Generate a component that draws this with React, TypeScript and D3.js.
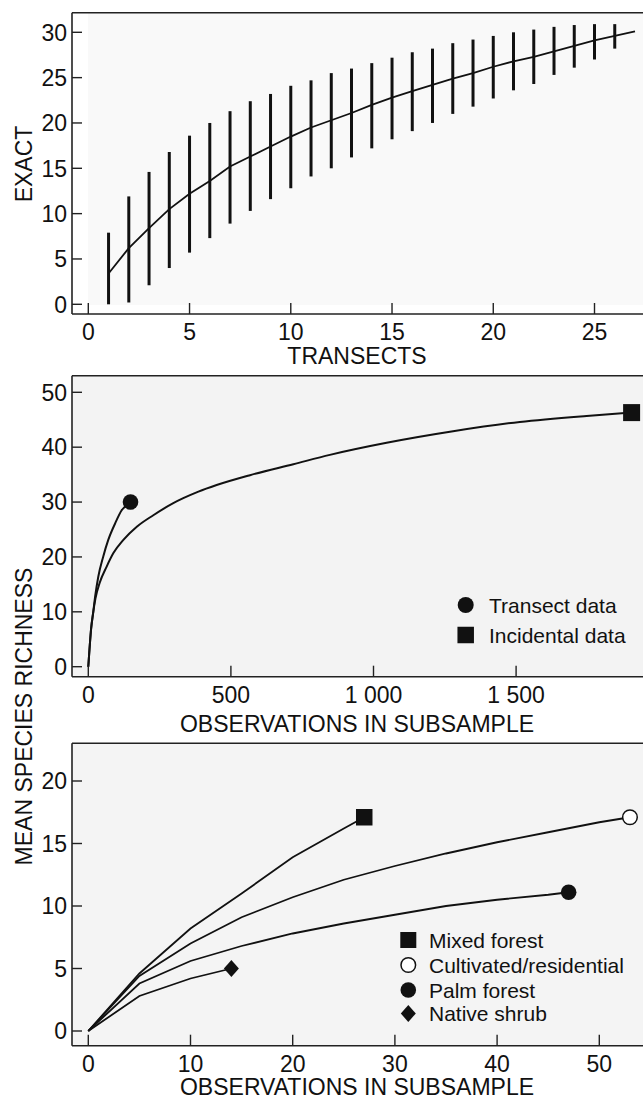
import React from "react";
import * as d3 from "d3";

// ---------- DATA ----------
// Top panel: exact rarefaction vs transects
const transects = [1,2,3,4,5,6,7,8,9,10,11,12,13,14,15,16,17,18,19,20,21,22,23,24,25,26,27];
const exactMean = [3.4,6.2,8.4,10.5,12.2,13.6,15.2,16.3,17.4,18.5,19.5,20.3,21.1,22.0,22.8,23.5,24.2,24.9,25.5,26.2,26.8,27.3,27.9,28.5,29.1,29.6,30.1];
const exactLow = [0,0.2,2.1,4.0,5.7,7.3,8.9,10.3,11.6,12.8,14.1,15.0,16.2,17.2,18.2,19.1,20.0,21.0,21.8,22.7,23.6,24.3,25.3,26.1,27.0,28.2];
const exactHigh = [7.9,11.9,14.6,16.8,18.6,20.0,21.3,22.4,23.2,24.1,24.7,25.5,26.0,26.6,27.2,27.8,28.2,28.8,29.2,29.6,30.0,30.3,30.6,30.8,30.9,30.9];
const topXTicks = [0,5,10,15,20,25];
const topYTicks = [0,5,10,15,20,25,30];

// Middle panel: transect vs incidental
const transectObs = [0,10,17.5,24,35,52,70,94,117,148];
const transectRich = [0,7.0,10.0,12.8,16.4,20.0,23.1,26.1,28.5,30.0];
const incidentalObs = [0,10,17.5,25,40,64,88,123,170,228,298,333,386,450,567,719,847,1046,1279,1513,1747,1905];
const incidentalRich = [0,7.0,10.0,12.4,15.3,18.2,20.7,23.1,25.5,27.6,29.8,30.7,31.9,33.1,34.9,36.9,38.6,40.8,42.9,44.6,45.7,46.3];
const midXTicks = [0,500,1000,1500];
const midXLabels = ["0","500","1 000","1 500"];
const midYTicks = [0,10,20,30,40,50];
const midLegend = ["Transect data","Incidental data"];

// Bottom panel: habitats
const mixedObs = [0,5,10,15,20,25,27];
const mixedRich = [0,4.6,8.2,11.0,13.9,16.2,17.1];
const cultObs = [0,5,10,15,20,25,30,35,40,45,50,53];
const cultRich = [0,4.4,7.0,9.1,10.7,12.1,13.2,14.2,15.1,15.9,16.7,17.1];
const palmObs = [0,5,10,15,20,25,30,35,40,45,47];
const palmRich = [0,3.8,5.6,6.8,7.8,8.6,9.3,10.0,10.5,10.9,11.1];
const shrubObs = [0,5,10,14];
const shrubRich = [0,2.8,4.2,5.0];
const botXTicks = [0,10,20,30,40,50];
const botYTicks = [0,5,10,15,20];
const botLegend = ["Mixed forest","Cultivated/residential","Palm forest","Native shrub"];

const FONT = "'Liberation Sans', Arial, Helvetica, sans-serif";
const FS = 23;
const LFS = 21;
const INK = "#111";

function Square({ cx, cy, s }: { cx: number; cy: number; s: number }) {
  return <rect x={cx - s / 2} y={cy - s / 2} width={s} height={s} fill={INK} />;
}
function Diamond({ cx, cy, w, h }: { cx: number; cy: number; w: number; h: number }) {
  return <path d={`M${cx},${cy - h / 2}L${cx + w / 2},${cy}L${cx},${cy + h / 2}L${cx - w / 2},${cy}Z`} fill={INK} />;
}

function Frame({ top, bottom, left, right }: { top: number; bottom: number; left: number; right: number }) {
  return (
    <g stroke="#222" strokeWidth={1.6} fill="none">
      <line x1={left} x2={right} y1={top} y2={top} />
      <line x1={left} x2={right} y1={bottom} y2={bottom} />
      <line x1={left} x2={left} y1={top} y2={bottom} />
    </g>
  );
}

function YAxis({ scale, ticks, left }: { scale: any; ticks: number[]; left: number }) {
  return (
    <g>
      {ticks.map((t, i) => (
        <g key={i}>
          <line x1={left} x2={left + 10} y1={scale(t)} y2={scale(t)} stroke="#222" strokeWidth={1.4} />
          <text x={left - 5} y={scale(t)} dy="0.36em" textAnchor="end" fontFamily={FONT} fontSize={FS} fill={INK}>
            {String(t)}
          </text>
        </g>
      ))}
    </g>
  );
}

function XAxis({ scale, ticks, bottom, labelY, labels }: { scale: any; ticks: number[]; bottom: number; labelY: number; labels?: string[] }) {
  return (
    <g>
      {ticks.map((t, i) => (
        <g key={i}>
          <line x1={scale(t)} x2={scale(t)} y1={bottom} y2={bottom - 11} stroke="#222" strokeWidth={1.4} />
          <text x={scale(t)} y={labelY} textAnchor="middle" fontFamily={FONT} fontSize={FS} fill={INK}>
            {labels ? labels[i] : String(t)}
          </text>
        </g>
      ))}
    </g>
  );
}

export default function App() {
  const W = 643, H = 1099;
  const left = 72, right = 643;

  // ---- top ----
  const tx = d3.scaleLinear().domain([0, 27]).range([88.3, 635]);
  const ty = d3.scaleLinear().domain([0, 30]).range([304.3, 32.3]);
  const topLine = d3.line<number>().x((_, i) => tx(transects[i])).y((d) => ty(d))(exactMean) || "";

  // ---- middle ----
  const mx = d3.scaleLinear().domain([0, 1500]).range([88.3, 516.1]);
  const my = d3.scaleLinear().domain([0, 50]).range([666.7, 392.3]);
  const mLine = d3.line<[number, number]>().x((d) => mx(d[0])).y((d) => my(d[1])).curve(d3.curveMonotoneX);
  const transectPath = mLine(transectObs.map((o, i) => [o, transectRich[i]] as [number, number])) || "";
  const incidentalPath = mLine(incidentalObs.map((o, i) => [o, incidentalRich[i]] as [number, number])) || "";

  // ---- bottom ----
  const bx = d3.scaleLinear().domain([0, 50]).range([88.3, 599.3]);
  const by = d3.scaleLinear().domain([0, 20]).range([1031, 781]);
  const bLine = d3.line<[number, number]>().x((d) => bx(d[0])).y((d) => by(d[1]));
  const mk = (xs: number[], ys: number[]) => bLine(xs.map((x, i) => [x, ys[i]] as [number, number])) || "";

  const last = (a: number[]) => a[a.length - 1];

  return (
    <svg width={W} height={H} style={{ position: "absolute", left: 0, top: 0, display: "block", background: "#fff" }}>
      {/* backgrounds */}
      <rect x={88} y={13} width={right - 88} height={292} fill="#f9f9f9" />
      <rect x={left} y={376} width={right - left} height={300} fill="#f3f3f3" />
      <rect x={left} y={744} width={right - left} height={301} fill="#f4f4f4" />

      {/* ===== TOP PANEL ===== */}
      <g>
        {exactLow.map((lo, i) => (
          <line key={i} x1={tx(transects[i])} x2={tx(transects[i])} y1={ty(lo)} y2={ty(exactHigh[i])} stroke={INK} strokeWidth={3} />
        ))}
        <path d={topLine} fill="none" stroke={INK} strokeWidth={1.8} />
      </g>
      <Frame top={12.7} bottom={314} left={left} right={right} />
      <YAxis scale={ty} ticks={topYTicks} left={left} />
      <XAxis scale={tx} ticks={topXTicks} bottom={314} labelY={340} />
      <text x={357} y={364} textAnchor="middle" fontFamily={FONT} fontSize={FS} fill={INK}>TRANSECTS</text>
      <text transform="translate(31.5,164) rotate(-90)" textAnchor="middle" fontFamily={FONT} fontSize={FS} fill={INK}>EXACT</text>

      {/* ===== MIDDLE PANEL ===== */}
      <path d={incidentalPath} fill="none" stroke={INK} strokeWidth={2} />
      <path d={transectPath} fill="none" stroke={INK} strokeWidth={2} />
      <circle cx={mx(last(transectObs))} cy={my(last(transectRich))} r={7.8} fill={INK} />
      <Square cx={mx(last(incidentalObs))} cy={my(last(incidentalRich))} s={17} />
      <Frame top={375.7} bottom={676.7} left={left} right={right} />
      <YAxis scale={my} ticks={midYTicks} left={left} />
      <XAxis scale={mx} ticks={midXTicks} bottom={676.7} labelY={703} labels={midXLabels} />
      <text x={357} y={731.5} textAnchor="middle" fontFamily={FONT} fontSize={FS} fill={INK}>OBSERVATIONS IN SUBSAMPLE</text>
      {/* middle legend */}
      <circle cx={465.7} cy={605} r={8} fill={INK} />
      <text x={489} y={605} dy="0.36em" fontFamily={FONT} fontSize={LFS} fill={INK}>{midLegend[0]}</text>
      <Square cx={465.7} cy={635} s={16.5} />
      <text x={489} y={635} dy="0.36em" fontFamily={FONT} fontSize={LFS} fill={INK}>{midLegend[1]}</text>

      {/* ===== BOTTOM PANEL ===== */}
      <g fill="none" stroke={INK} strokeWidth={1.8}>
        <path d={mk(mixedObs, mixedRich)} />
        <path d={mk(cultObs, cultRich)} />
        <path d={mk(palmObs, palmRich)} />
        <path d={mk(shrubObs, shrubRich)} />
      </g>
      <Square cx={bx(last(mixedObs))} cy={by(last(mixedRich))} s={16.5} />
      <circle cx={bx(last(cultObs))} cy={by(last(cultRich))} r={7.3} fill="#fff" stroke={INK} strokeWidth={1.5} />
      <circle cx={bx(last(palmObs))} cy={by(last(palmRich))} r={7.8} fill={INK} />
      <Diamond cx={bx(last(shrubObs))} cy={by(last(shrubRich))} w={15} h={17} />
      <Frame top={743.3} bottom={1045.7} left={left} right={right} />
      <YAxis scale={by} ticks={botYTicks} left={left} />
      <XAxis scale={bx} ticks={botXTicks} bottom={1045.7} labelY={1071.5} />
      <text x={357} y={1095} textAnchor="middle" fontFamily={FONT} fontSize={FS} fill={INK}>OBSERVATIONS IN SUBSAMPLE</text>
      {/* bottom legend */}
      <Square cx={408.3} cy={940} s={16} />
      <text x={429} y={940} dy="0.36em" fontFamily={FONT} fontSize={LFS} fill={INK}>{botLegend[0]}</text>
      <circle cx={408.3} cy={965} r={7.3} fill="#fff" stroke={INK} strokeWidth={1.5} />
      <text x={429} y={965} dy="0.36em" fontFamily={FONT} fontSize={LFS} fill={INK}>{botLegend[1]}</text>
      <circle cx={408.3} cy={990} r={7.8} fill={INK} />
      <text x={429} y={990} dy="0.36em" fontFamily={FONT} fontSize={LFS} fill={INK}>{botLegend[2]}</text>
      <Diamond cx={408.3} cy={1013.5} w={15} h={17} />
      <text x={429} y={1013.5} dy="0.36em" fontFamily={FONT} fontSize={LFS} fill={INK}>{botLegend[3]}</text>

      {/* shared y label */}
      <text transform="translate(32,716.5) rotate(-90)" textAnchor="middle" fontFamily={FONT} fontSize={FS} fill={INK}>MEAN SPECIES RICHNESS</text>
    </svg>
  );
}
